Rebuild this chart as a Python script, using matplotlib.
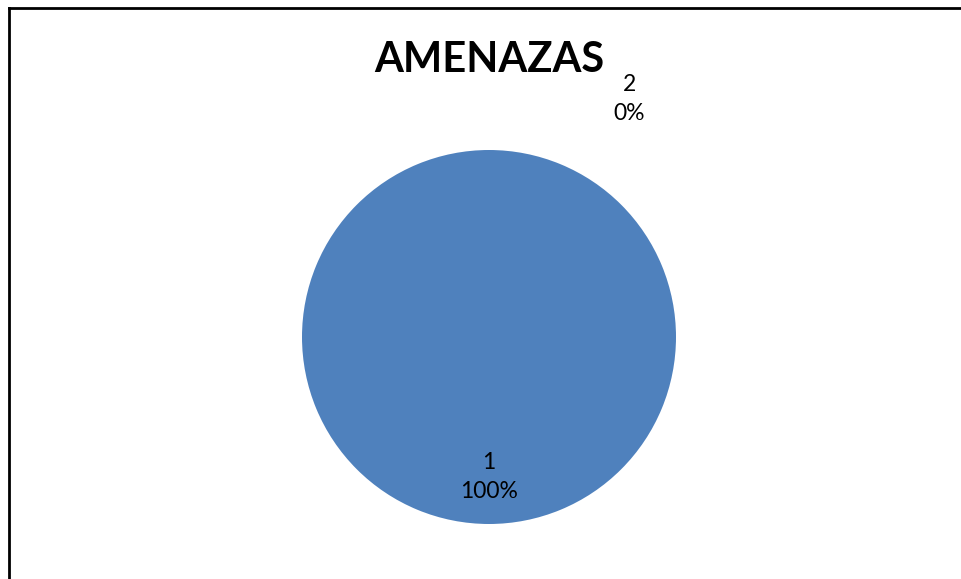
import matplotlib
matplotlib.use("Agg")
import matplotlib.pyplot as plt
from matplotlib.lines import Line2D

title = "AMENAZAS"
categories = ["1", "2"]
values = [100, 0]
pct_labels = ["100%", "0%"]
colors = ["#4F81BD", "#C0504D"]

W, H = 961, 579
fig = plt.figure(figsize=(W / 100, H / 100), dpi=100)
fig.patch.set_facecolor("white")

# pie center (489, 337) px, radius 187 px
cx, cy, r = 489, 337, 187
ax = fig.add_axes([0, 0, 1, 1])

wedges, _ = ax.pie(values, colors=colors, startangle=90, counterclock=False,
                   radius=1.0, center=(0, 0), frame=True,
                   wedgeprops=dict(linewidth=0))
ax.set_xlim(-cx / r, (W - cx) / r)
ax.set_ylim(-(H - cy) / r, cy / r)
ax.axis("off")

font = ["Lato", "DejaVu Sans"]
ax.text(0, (cy - 60) / r, title, ha="center", va="center",
        fontsize=30, fontweight="bold", family=font, color="black")

label_pos = [(0.0, -(477 - cy) / r), ((629 - cx) / r, (cy - 99) / r)]
for (x, y), c, p in zip(label_pos, categories, pct_labels):
    ax.text(x, y, f"{c}\n{p}", ha="center", va="center", fontsize=16.5,
            family=font, color="black", linespacing=1.45)

# frame lines (top and left)
fig.add_artist(Line2D([8.5 / W, 1], [1 - 7.5 / H, 1 - 7.5 / H],
                      transform=fig.transFigure, color="black", lw=2.0))
fig.add_artist(Line2D([8.5 / W, 8.5 / W], [0, 1 - 7.5 / H],
                      transform=fig.transFigure, color="black", lw=2.0))

fig.savefig("out.png", dpi=100, facecolor="white")
